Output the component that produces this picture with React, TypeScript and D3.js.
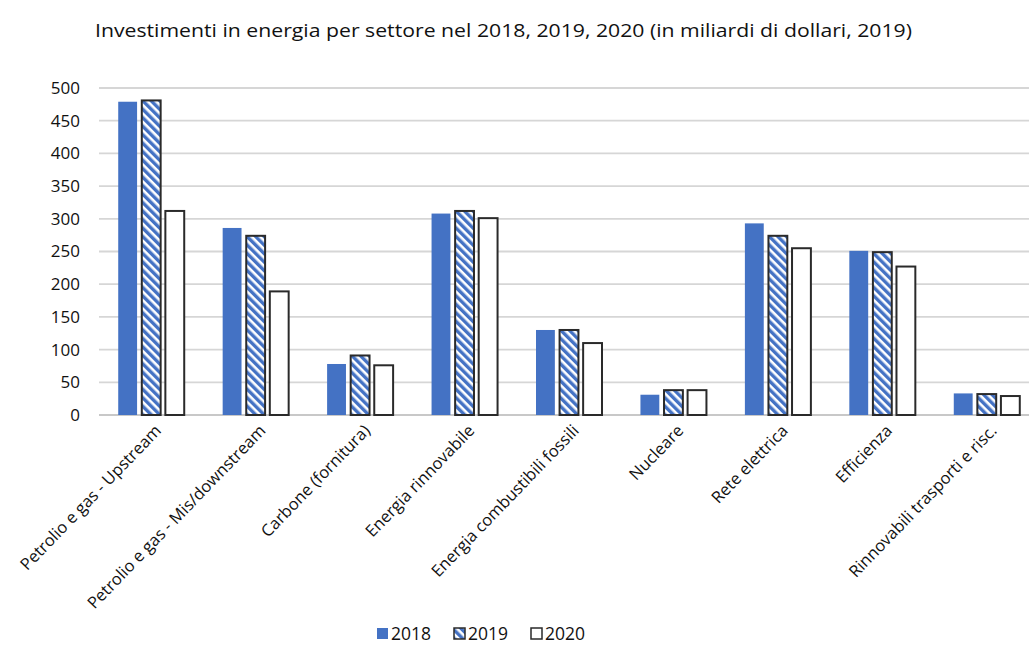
import React from "react";
import * as d3 from "d3";

const categories = [
  "Petrolio e gas - Upstream",
  "Petrolio e gas - Mis/downstream",
  "Carbone (fornitura)",
  "Energia rinnovabile",
  "Energia combustibili fossili",
  "Nucleare",
  "Rete elettrica",
  "Efficienza",
  "Rinnovabili trasporti e risc.",
];
const years = ["2018", "2019", "2020"];
const values2018 = [479, 286, 78, 308, 130, 31, 293, 251, 33];
const values2019 = [481, 274, 91, 312, 130, 38, 274, 249, 32];
const values2020 = [312, 189, 76, 301, 110, 38, 255, 227, 29];
const yTicks = [0, 50, 100, 150, 200, 250, 300, 350, 400, 450, 500];
const title = "Investimenti in energia per settore nel 2018, 2019, 2020 (in miliardi di dollari, 2019)";

const W = 1029;
const H = 645;
const left = 99;
const right = 1039;
const top = 88;
const bottom = 415;
const font = "'Open Sans', 'Liberation Sans', sans-serif";

export default function App() {
  const series = [values2018, values2019, values2020];
  const x = d3.scaleBand<string>().domain(categories).range([left, right]).paddingInner(0).paddingOuter(0);
  const bw = x.bandwidth();
  const inner = d3.scaleBand<string>().domain(years).range([bw / 2 - 33, bw / 2 + 33]).paddingInner(0.2);
  const y = d3.scaleLinear().domain([0, 500]).range([bottom, top]);

  const fills = ["#4472C4", "url(#hatch)", "#ffffff"];
  const strokes = ["none", "#2a2a2a", "#2a2a2a"];

  return (
    <svg width={W} height={H} style={{ position: "absolute", left: 0, top: 0, background: "#fff" }}>
      <defs>
        <pattern id="hatch" patternUnits="userSpaceOnUse" width="6" height="6" patternTransform="rotate(-45)">
          <rect width="6" height="6" fill="#ffffff" />
          <rect width="3.4" height="6" fill="#4472C4" />
        </pattern>
      </defs>
      <rect x={0} y={0} width={W} height={H} fill="#fff" />
      <text x={95} y={37} textLength={817} lengthAdjust="spacingAndGlyphs" fontFamily={font} fontSize={19} fill="#111">
        {title}
      </text>
      {yTicks.map((t) => (
        <g key={t}>
          <line x1={left} x2={W} y1={y(t)} y2={y(t)} stroke={t === 0 ? "#c8c8c8" : "#d6d6d6"} strokeWidth={1.8} />
          <text x={80} y={y(t)} dy="0.35em" textAnchor="end" fontFamily={font} fontSize={17} fill="#111">
            {t}
          </text>
        </g>
      ))}
      {categories.map((c, i) => (
        <g key={c} transform={`translate(${x(c)},0)`}>
          {years.map((yr, j) => {
            const v = series[j][i];
            const bx = inner(yr)!;
            const bwid = inner.bandwidth();
            return (
              <rect
                key={yr}
                x={bx}
                y={y(v)}
                width={bwid}
                height={bottom - y(v)}
                fill={fills[j]}
                stroke={strokes[j]}
                strokeWidth={j === 0 ? 0 : 2}
              />
            );
          })}
          <text
            transform={`translate(${bw / 2 + 2},${bottom + 8}) rotate(-46)`}
            textAnchor="end"
            dy="0.75em"
            fontFamily={font}
            fontSize={16.5}
            fill="#111"
          >
            {c}
          </text>
        </g>
      ))}
      {years.map((yr, j) => {
        const lx = 377 + j * 77;
        return (
          <g key={yr}>
            <rect x={lx} y={628} width={11} height={11} fill={fills[j]} stroke={strokes[j]} strokeWidth={j === 0 ? 0 : 1.5} />
            <text x={lx + 14} y={634} dy="0.35em" fontFamily={font} fontSize={17.5} fill="#111">
              {yr}
            </text>
          </g>
        );
      })}
    </svg>
  );
}
